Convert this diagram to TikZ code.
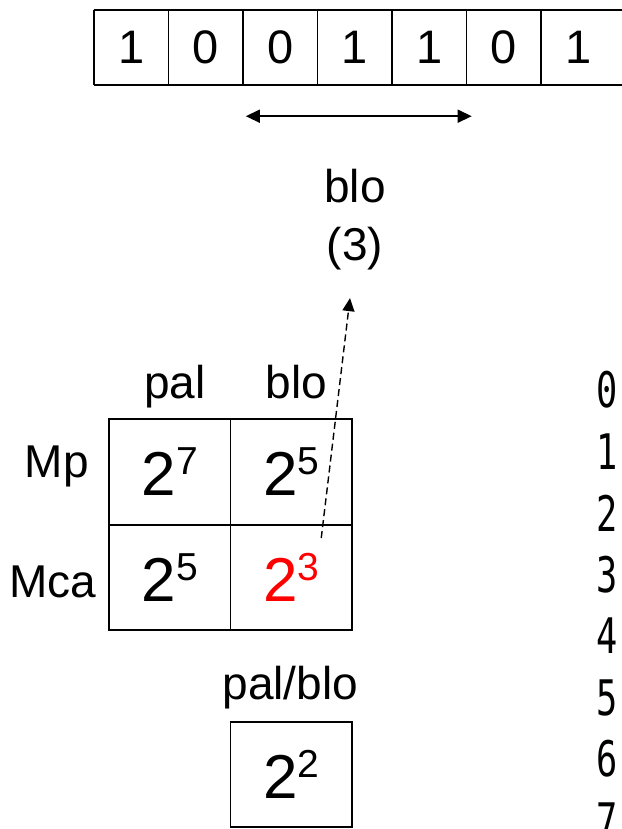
\documentclass[tikz,border=0pt]{standalone}
\usepackage{fontspec}
\setmainfont{Liberation Sans}
\newfontfamily\idxfont{DejaVu Sans Mono}
\usetikzlibrary{arrows.meta, positioning}

% power of two with a raised exponent
\newcommand{\pw}[2]{{\fontsize{62}{62}\selectfont #1}\raisebox{21pt}{\fontsize{39}{39}\selectfont #2}}

\begin{document}
\begin{tikzpicture}[x=1pt, y=1pt, node distance=105.5pt and 121.5pt, on grid,
        bitcell/.style={minimum width=74.5pt, minimum height=75pt, inner sep=0pt,
            font=\fontsize{47}{47}\selectfont},
        cell/.style={draw, line width=1.6pt, minimum width=121.5pt,
            minimum height=105.5pt, inner sep=0pt},
        lbl/.style={inner sep=0pt, font=\fontsize{46}{58}\selectfont},
        idx/.style={inner sep=0pt, font=\idxfont\fontsize{49}{49}\selectfont},
        spanarrow/.style={{Triangle[length=14pt,width=13pt]}-{Triangle[length=14pt,width=13pt]}, line width=1.5pt},
        hint/.style={-{Triangle[length=13pt,width=12pt]}, line width=1.4pt, dash pattern=on 7pt off 4pt}]
        \useasboundingbox (0,0) rectangle (621,-829);

        % bit string
        \foreach \b [count=\i from 0] in {1,0,0,1,1,0,1}
            \node[bitcell] (b\i) at (131.25+74.5*\i,-47.5) {\b};
        \draw[line width=1.6pt] (b0.north west) -- ([xshift=40pt]b6.north east);
        \draw[line width=1.6pt] (b0.south west) -- ([xshift=40pt]b6.south east);
        \foreach \i in {0,...,6}
            \draw[line width=1.6pt] (b\i.north west) -- (b\i.south west);
        \draw[spanarrow] ([xshift=3pt,yshift=-31pt]b2.south west) -- ([xshift=5pt,yshift=-31pt]b4.south east);

        \node[lbl, align=center] (sel) at (355,-219.5) {blo\\(3)};

        % table
        \node[cell]           (m11) at (169.75,-472) {\pw{2}{7}};
        \node[cell]           (m12) [right=of m11]   {\pw{2}{5}};
        \node[cell]           (m21) [below=of m11]   {\pw{2}{5}};
        \node[cell, text=red] (m22) [right=of m21]   {\pw{2}{3}};

        \node[lbl, anchor=base] (pal) at ([xshift=5pt,yshift=20pt]m11.north) {pal};
        \node[lbl, anchor=base] (blo) at ([xshift=5pt,yshift=20pt]m12.north) {blo};
        \node[lbl, anchor=base] (mp)  at ([xshift=-113pt,yshift=-5pt]m11.center) {Mp};
        \node[lbl, anchor=base] (mca) at ([xshift=-117pt,yshift=-19.5pt]m21.center) {Mca};

        \draw[hint] ([shift={(30pt,39.5pt)}]m22.center) -- ([shift={(-5pt,-28pt)}]sel.south);

        \node[cell] (ratio) [below=197pt of m22] {\pw{2}{2}};
        \node[lbl, anchor=base] (ratiolbl) at ([xshift=-1pt,yshift=21pt]ratio.north) {pal/blo};

        % index column
        \foreach \d in {0,...,7}
            \node[idx] (n\d) at (607,-390-61.5*\d) {\scalebox{0.72}[1]{\d}};
    \end{tikzpicture}
\end{document}
